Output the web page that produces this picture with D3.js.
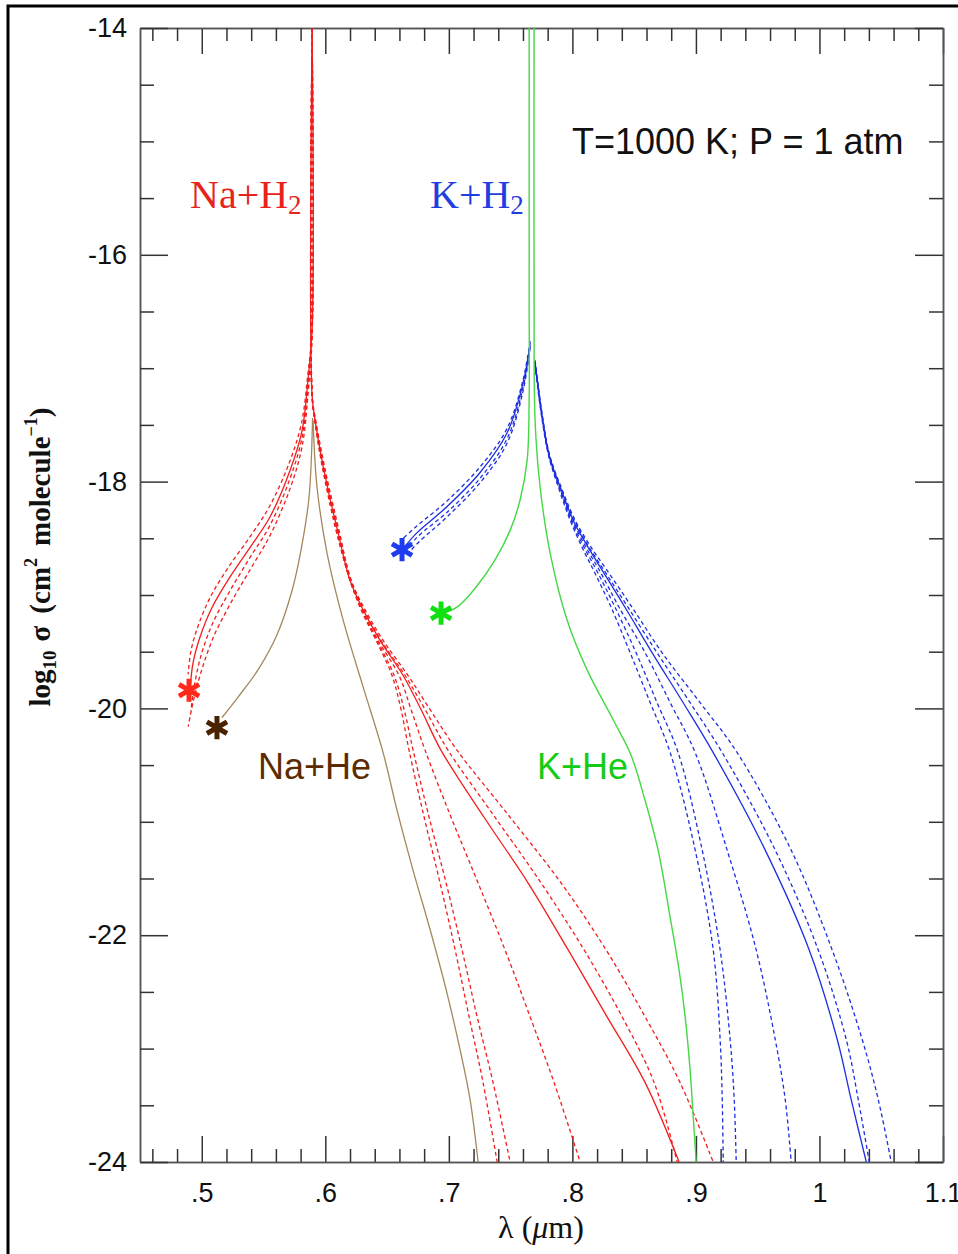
<!DOCTYPE html>
<html>
<head>
<meta charset="utf-8">
<script src="https://cdn.jsdelivr.net/npm/d3@7"></script>
<style>
  body { margin: 0; background: #fff; }
  svg { display: block; }
</style>
</head>
<body>
<svg id="chart" width="958" height="1254"></svg>
<script>
// axis ticks
const xMajor = [0.5, 0.6, 0.7, 0.8, 0.9, 1.0, 1.1];
const xMajorLabels = [".5", ".6", ".7", ".8", ".9", "1", "1.1"];
const yMajor = [-24, -22, -20, -18, -16, -14];
const yMajorLabels = ["-24", "-22", "-20", "-18", "-16", "-14"];

// Na+H2 (red): [left wing, right wing] for the solid profile, then dashed ones
const naH2Solid = [
  [[0.5893,-14],[0.5893,-16.66],[0.5860,-17.10],[0.5812,-17.55],[0.5715,-17.90],[0.5553,-18.31],[0.5391,-18.58],[0.5229,-18.84],[0.5083,-19.11],[0.4986,-19.37],[0.4929,-19.60],[0.4905,-19.84]],
  [[0.5893,-14],[0.5893,-17.24],[0.5917,-17.46],[0.5966,-17.77],[0.6022,-18.07],[0.6103,-18.45],[0.6200,-18.87],[0.6306,-19.13],[0.6443,-19.40],[0.6630,-19.71],[0.6775,-20.01],[0.6937,-20.37],[0.7285,-20.96],[0.7642,-21.54],[0.7966,-22.13],[0.8281,-22.72],[0.8589,-23.30],[0.8864,-24]]
];
const naH2Dashed = [
  [[0.5893,-14],[0.5893,-16.70],[0.5860,-17.16],[0.5810,-17.62],[0.5712,-17.98],[0.5550,-18.39],[0.5390,-18.67],[0.5230,-18.96],[0.5088,-19.25],[0.4995,-19.53],[0.4940,-19.80],[0.4912,-20.02]],
  [[0.5893,-14],[0.5893,-16.73],[0.5862,-17.21],[0.5812,-17.69],[0.5715,-18.06],[0.5555,-18.47],[0.5395,-18.77],[0.5235,-19.07],[0.5095,-19.37],[0.5000,-19.66],[0.4935,-19.92],[0.4890,-20.16]],
  [[0.5893,-14],[0.5893,-16.64],[0.5858,-17.06],[0.5808,-17.48],[0.5710,-17.83],[0.5548,-18.22],[0.5388,-18.49],[0.5225,-18.74],[0.5078,-19.00],[0.4978,-19.25],[0.4915,-19.48],[0.4889,-19.70]],
  [[0.5893,-14],[0.5893,-17.24],[0.5915,-17.47],[0.5962,-17.79],[0.6018,-18.10],[0.6098,-18.48],[0.6200,-18.87],[0.6289,-19.13],[0.6411,-19.40],[0.6540,-19.71],[0.6613,-20.01],[0.6678,-20.37],[0.6800,-20.96],[0.6929,-21.54],[0.7051,-22.13],[0.7164,-22.72],[0.7277,-23.30],[0.7391,-24]],
  [[0.5893,-14],[0.5893,-17.24],[0.5916,-17.46],[0.5964,-17.78],[0.6020,-18.09],[0.6100,-18.47],[0.6200,-18.87],[0.6298,-19.13],[0.6419,-19.40],[0.6557,-19.71],[0.6638,-20.01],[0.6711,-20.37],[0.6840,-20.96],[0.6978,-21.54],[0.7107,-22.13],[0.7229,-22.72],[0.7358,-23.30],[0.7496,-24]],
  [[0.5893,-14],[0.5893,-17.24],[0.5917,-17.45],[0.5966,-17.76],[0.6022,-18.06],[0.6104,-18.44],[0.6200,-18.87],[0.6298,-19.13],[0.6427,-19.40],[0.6597,-19.71],[0.6694,-20.01],[0.6808,-20.37],[0.7018,-20.96],[0.7237,-21.54],[0.7455,-22.13],[0.7658,-22.72],[0.7852,-23.30],[0.8063,-24]],
  [[0.5893,-14],[0.5893,-17.24],[0.5918,-17.45],[0.5968,-17.75],[0.6025,-18.05],[0.6106,-18.43],[0.6209,-18.87],[0.6314,-19.13],[0.6451,-19.40],[0.6646,-19.71],[0.6808,-20.01],[0.6994,-20.37],[0.7374,-20.96],[0.7747,-21.54],[0.8095,-22.13],[0.8403,-22.72],[0.8662,-23.30],[0.8848,-24]],
  [[0.5893,-14],[0.5893,-17.24],[0.5919,-17.44],[0.5970,-17.74],[0.6028,-18.04],[0.6109,-18.42],[0.6209,-18.87],[0.6322,-19.13],[0.6468,-19.40],[0.6670,-19.71],[0.6848,-20.01],[0.7067,-20.37],[0.7496,-20.96],[0.7909,-21.54],[0.8273,-22.13],[0.8589,-22.72],[0.8872,-23.30],[0.9140,-24]]
];

// K+H2 (blue)
const kH2Solid = [
  [[0.7658,-16.78],[0.7601,-17.13],[0.7472,-17.57],[0.7253,-17.92],[0.6986,-18.22],[0.6743,-18.45],[0.6646,-18.57]],
  [[0.7698,-16.95],[0.7747,-17.37],[0.7812,-17.77],[0.7909,-18.07],[0.8006,-18.34],[0.8128,-18.58],[0.8257,-18.81],[0.8427,-19.11],[0.8646,-19.51],[0.8897,-19.95],[0.9140,-20.39],[0.9561,-21.25],[0.9917,-22.13],[1.0144,-22.92],[1.0257,-23.45],[1.0379,-24]]
];
const kH2Dashed = [
  [[0.7658,-16.80],[0.7601,-17.17],[0.7472,-17.62],[0.7253,-17.97],[0.6986,-18.27],[0.6743,-18.49],[0.6660,-18.60]],
  [[0.7658,-16.76],[0.7601,-17.10],[0.7472,-17.53],[0.7253,-17.87],[0.6986,-18.17],[0.6743,-18.39],[0.6630,-18.50]],
  [[0.7658,-16.82],[0.7601,-17.20],[0.7472,-17.66],[0.7253,-18.01],[0.6986,-18.31],[0.6760,-18.53],[0.6680,-18.62]],
  [[0.7698,-16.97],[0.7745,-17.38],[0.7810,-17.78],[0.7893,-18.07],[0.7982,-18.34],[0.8079,-18.58],[0.8184,-18.81],[0.8314,-19.11],[0.8468,-19.51],[0.8630,-19.95],[0.8792,-20.39],[0.8994,-21.25],[0.9140,-22.13],[0.9196,-22.92],[0.9213,-23.45],[0.9221,-24]],
  [[0.7698,-16.96],[0.7746,-17.38],[0.7811,-17.78],[0.7901,-18.07],[0.7990,-18.34],[0.8095,-18.58],[0.8209,-18.81],[0.8346,-19.11],[0.8516,-19.51],[0.8686,-19.95],[0.8856,-20.39],[0.9051,-21.25],[0.9196,-22.13],[0.9277,-22.92],[0.9310,-23.45],[0.9326,-24]],
  [[0.7698,-16.95],[0.7747,-17.37],[0.7812,-17.77],[0.7901,-18.07],[0.7998,-18.34],[0.8111,-18.58],[0.8233,-18.81],[0.8379,-19.11],[0.8589,-19.51],[0.8792,-19.95],[0.8994,-20.39],[0.9253,-21.25],[0.9488,-22.13],[0.9642,-22.92],[0.9723,-23.45],[0.9771,-24]],
  [[0.7698,-16.94],[0.7748,-17.36],[0.7813,-17.76],[0.7909,-18.07],[0.8014,-18.34],[0.8136,-18.58],[0.8273,-18.81],[0.8451,-19.11],[0.8686,-19.51],[0.8953,-19.95],[0.9213,-20.39],[0.9642,-21.25],[0.9990,-22.13],[1.0217,-22.92],[1.0314,-23.45],[1.0403,-24]],
  [[0.7698,-16.93],[0.7749,-17.36],[0.7814,-17.76],[0.7917,-18.07],[0.8022,-18.34],[0.8152,-18.58],[0.8298,-18.81],[0.8484,-19.11],[0.8727,-19.51],[0.9034,-19.95],[0.9334,-20.39],[0.9771,-21.25],[1.0103,-22.13],[1.0346,-22.92],[1.0476,-23.45],[1.0581,-24]]
];

// Na+He (brown)
const naHe = [
  [[0.5897,-17.44],[0.5868,-18.14],[0.5804,-18.60],[0.5731,-18.96],[0.5609,-19.35],[0.5455,-19.66],[0.5294,-19.90],[0.5164,-20.08]],
  [[0.5901,-17.46],[0.5933,-18.05],[0.6014,-18.63],[0.6144,-19.22],[0.6306,-19.81],[0.6468,-20.39],[0.6581,-20.90],[0.6711,-21.43],[0.6848,-21.95],[0.6978,-22.48],[0.7091,-23.01],[0.7172,-23.45],[0.7237,-24]]
];

// K+He (green)
const kHe = [
  [[0.7650,-14],[0.7650,-16.40],[0.7650,-17.28],[0.7634,-17.81],[0.7577,-18.16],[0.7496,-18.43],[0.7374,-18.69],[0.7213,-18.94],[0.7075,-19.10],[0.6986,-19.15]],
  [[0.7690,-14],[0.7690,-16.40],[0.7698,-17.46],[0.7739,-18.05],[0.7820,-18.63],[0.7957,-19.22],[0.8119,-19.66],[0.8330,-20.10],[0.8474,-20.41],[0.8588,-20.81],[0.8694,-21.25],[0.8791,-21.84],[0.8864,-22.31],[0.8913,-22.72],[0.8953,-23.19],[0.8978,-23.60],[0.9002,-24]]
];

// star markers (wavelength, log sigma)
const starNaH2 = [0.4897, -19.84];
const starNaHe = [0.5123, -20.17];
const starKH2 = [0.6621, -18.60];
const starKHe = [0.6937, -19.16];

const RED = "#f21d1d", BLUE = "#1c2fe0", GREEN = "#44d844", BROWN = "#a5875e";

const svg = d3.select("#chart");
const x = d3.scaleLinear().domain([0.45, 1.1]).range([140, 943]);
const y = d3.scaleLinear().domain([-24, -14]).range([1162, 28]);

// outer frame (runs off the right and bottom edges)
svg.append("rect")
    .attr("x", 8).attr("y", 6)
    .attr("width", 970).attr("height", 1270)
    .attr("fill", "none").attr("stroke", "#000").attr("stroke-width", 3);

// axes with ticks pointing inward on all four sides
function addAxis(axis, tx, ty) {
    const g = svg.append("g").attr("transform", `translate(${tx},${ty})`).call(axis);
    g.select(".domain").attr("stroke", "#555").attr("stroke-width", 1.5);
    g.selectAll(".tick line").attr("stroke", "#333").attr("stroke-width", 1.5);
    g.selectAll("text")
        .attr("font-family", "'Liberation Sans', Arial, sans-serif")
        .attr("font-size", 27).attr("fill", "#111");
    return g;
}
const xMinor = d3.range(0.46, 1.095, 0.02).filter(v => !xMajor.some(m => Math.abs(m - v) < 1e-6));
const yMinor = d3.range(-23.5, -14, 0.5).filter(v => !yMajor.some(m => Math.abs(m - v) < 1e-6));

addAxis(d3.axisBottom(x).tickValues(xMajor).tickFormat(d => xMajorLabels[xMajor.indexOf(d)])
    .tickSizeInner(-26).tickSizeOuter(0).tickPadding(21), 0, 1162);
addAxis(d3.axisBottom(x).tickValues(xMinor).tickFormat("").tickSizeInner(-13).tickSizeOuter(0), 0, 1162);
addAxis(d3.axisTop(x).tickValues(xMajor).tickFormat("").tickSizeInner(-26).tickSizeOuter(0), 0, 28);
addAxis(d3.axisTop(x).tickValues(xMinor).tickFormat("").tickSizeInner(-13).tickSizeOuter(0), 0, 28);
addAxis(d3.axisLeft(y).tickValues(yMajor).tickFormat(d => yMajorLabels[yMajor.indexOf(d)])
    .tickSizeInner(-28).tickSizeOuter(0).tickPadding(13), 140, 0);
addAxis(d3.axisLeft(y).tickValues(yMinor).tickFormat("").tickSizeInner(-14).tickSizeOuter(0), 140, 0);
addAxis(d3.axisRight(y).tickValues(yMajor).tickFormat("").tickSizeInner(-28).tickSizeOuter(0), 943, 0);
addAxis(d3.axisRight(y).tickValues(yMinor).tickFormat("").tickSizeInner(-14).tickSizeOuter(0), 943, 0);

// plot area
svg.append("clipPath").attr("id", "clip")
    .append("rect").attr("x", 140).attr("y", 28).attr("width", 803).attr("height", 1134);
const plot = svg.append("g").attr("clip-path", "url(#clip)");

const line = d3.line()
    .x(d => x(d[0]))
    .y(d => y(d[1]))
    .curve(d3.curveCatmullRom.alpha(0.5));

function drawCurves(curves, color, dashed, width) {
    plot.append("g").selectAll("path")
        .data(curves)
        .join("path")
        .attr("d", line)
        .attr("fill", "none")
        .attr("stroke", color)
        .attr("stroke-width", width)
        .attr("stroke-dasharray", dashed ? "4,3" : null);
}

drawCurves(naHe, BROWN, false, 1.3);
drawCurves(naH2Dashed, RED, true, 1.3);
drawCurves(naH2Solid, RED, false, 1.3);
drawCurves(kH2Dashed, BLUE, true, 1.3);
drawCurves(kH2Solid, BLUE, false, 1.3);
drawCurves(kHe, GREEN, false, 1.4);

// asterisk markers
const star = d3.symbol().type(d3.symbolAsterisk).size(380);
[[starNaH2, "#ff2a1a"], [starNaHe, "#4a2200"], [starKH2, "#1f3cf0"], [starKHe, "#10e010"]]
    .forEach(([p, c]) => {
        svg.append("path")
            .attr("d", star)
            .attr("transform", `translate(${x(p[0])},${y(p[1])})`)
            .attr("fill", "none")
            .attr("stroke", c)
            .attr("stroke-width", 5);
    });

// labels
const serif = "'Liberation Serif', 'Times New Roman', serif";
const sans = "'Liberation Sans', Arial, sans-serif";

function molLabel(txt, sub, px, py, color) {
    const t = svg.append("text").attr("x", px).attr("y", py)
        .attr("font-family", serif).attr("font-size", 40).attr("fill", color);
    t.append("tspan").text(txt);
    t.append("tspan").attr("font-size", 27).attr("dy", 6).text(sub);
}
molLabel("Na+H", "2", 190, 208, "#e8231b");
molLabel("K+H", "2", 430, 208, "#1f3de0");

svg.append("text").attr("x", 258).attr("y", 779)
    .attr("font-family", sans).attr("font-size", 36).attr("fill", "#5c2c00").text("Na+He");
svg.append("text").attr("x", 537).attr("y", 779)
    .attr("font-family", sans).attr("font-size", 36).attr("fill", "#14cc14").text("K+He");
svg.append("text").attr("x", 572).attr("y", 154)
    .attr("font-family", sans).attr("font-size", 36).attr("fill", "#111").text("T=1000 K; P = 1 atm");

// x axis title
const xt = svg.append("text").attr("x", 541).attr("y", 1238).attr("text-anchor", "middle")
    .attr("font-family", serif).attr("font-size", 32).attr("fill", "#111");
xt.append("tspan").text("λ  (");
xt.append("tspan").attr("font-style", "italic").text("μ");
xt.append("tspan").text("m)");

// y axis title
const yt = svg.append("text").attr("transform", "translate(50,557) rotate(-90)")
    .attr("text-anchor", "middle")
    .attr("font-family", serif).attr("font-weight", "bold").attr("font-size", 29).attr("fill", "#111");
yt.append("tspan").text("log");
yt.append("tspan").attr("font-size", 19).attr("dy", 6).text("10");
yt.append("tspan").attr("dy", -6).attr("dx", 9).text("σ");
yt.append("tspan").attr("dx", 12).text("(cm");
yt.append("tspan").attr("font-size", 18).attr("dy", -13).text("2");
yt.append("tspan").attr("dy", 13).attr("dx", 12).text("molecule");
yt.append("tspan").attr("font-size", 18).attr("dy", -13).text("−1");
yt.append("tspan").attr("dy", 13).text(")");
</script>
</body>
</html>
